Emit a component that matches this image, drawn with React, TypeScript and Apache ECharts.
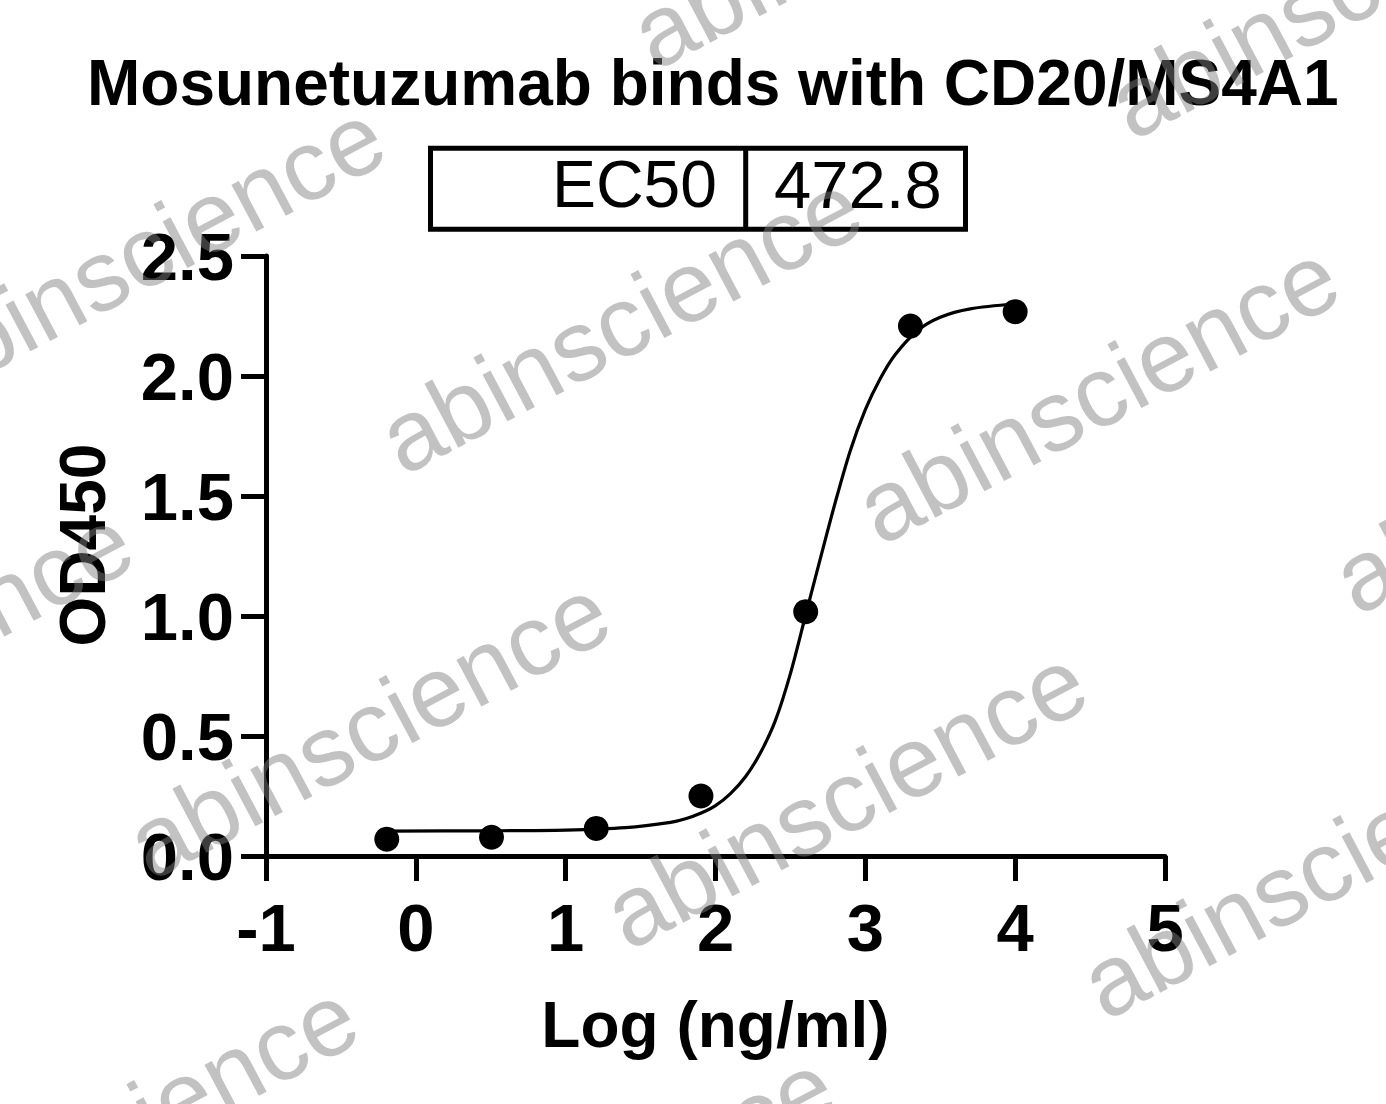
import React, { useEffect, useRef } from "react";
import * as echarts from "echarts";

// ---------- data ----------
const chartTitle = "Mosunetuzumab binds with CD20/MS4A1";
const ec50Label = "EC50";
const ec50Value = "472.8";
const xAxisTitle = "Log (ng/ml)";
const yAxisTitle = "OD450";

// measured points: log10 concentration (ng/ml) vs OD450
const logConc = [-0.194, 0.505, 1.204, 1.903, 2.602, 3.301, 4.0];
const od450 = [0.07, 0.078, 0.115, 0.25, 1.018, 2.208, 2.268];

// fitted curve
const fitX = [-0.194, 0.5, 1.0, 1.4, 1.7, 1.8, 1.9, 2.0, 2.1, 2.2, 2.3, 2.4, 2.5, 2.6, 2.7, 2.8, 2.9, 3.0, 3.1, 3.2, 3.35, 3.5, 3.7, 4.0];
const fitY = [0.104, 0.105, 0.108, 0.118, 0.14, 0.155, 0.178, 0.21, 0.26, 0.33, 0.43, 0.565, 0.76, 1.0, 1.24, 1.475, 1.69, 1.86, 1.99, 2.09, 2.19, 2.245, 2.28, 2.3];

// axes
const xMin = -1, xMax = 5, xStep = 1;
const yMin = 0, yMax = 2.5, yStep = 0.5;

const FONT = "'Liberation Sans', Arial, Helvetica, sans-serif";

function buildWatermarks() {
  const els: any[] = [];
  const ax = 620, ay = 322;
  const ux = 477, uy = 70;
  const vx = 252, vy = -405;
  for (let i = -4; i <= 4; i++) {
    for (let j = -4; j <= 4; j++) {
      const cx = ax + i * ux + j * vx;
      const cy = ay + i * uy + j * vy;
      if (cx < -350 || cx > 1750 || cy < -250 || cy > 1350) continue;
      els.push({
        type: "text",
        x: cx,
        y: cy,
        rotation: (28 * Math.PI) / 180,
        z: 100,
        silent: true,
        style: {
          text: "abinscience",
          fontSize: 100,
          fontFamily: FONT,
          fontWeight: "normal",
          fill: "rgba(128,128,128,0.48)",
          textAlign: "center",
          textVerticalAlign: "middle",
          align: "center",
          verticalAlign: "middle",
        },
      });
    }
  }
  return els;
}

export default function App() {
  const ref = useRef<HTMLDivElement>(null);

  useEffect(() => {
    document.body.style.margin = "0";
    if (!ref.current) return;
    const chart = echarts.init(ref.current, undefined, { renderer: "svg" });

    const points = logConc.map((x, i) => [x, od450[i]]);
    const curve = fitX.map((x, i) => [x, fitY[i]]);

    const option: any = {
      animation: false,
      backgroundColor: "#ffffff",
      title: {
        text: chartTitle,
        left: 87,
        top: 51,
        padding: 0,
        textStyle: {
          fontFamily: FONT,
          fontSize: 64,
          fontWeight: "bold",
          color: "#000",
        },
      },
      grid: {
        left: 266,
        right: 1386 - 1165,
        top: 256,
        bottom: 1104 - 856,
        containLabel: false,
        outerBoundsMode: "none",
      },
      xAxis: {
        type: "value",
        min: xMin,
        max: xMax,
        interval: xStep,
        splitLine: { show: false },
        axisLine: { show: true, onZero: false, lineStyle: { color: "#000", width: 5 } },
        axisTick: { show: true, length: 25, lineStyle: { color: "#000", width: 5 } },
        axisLabel: {
          margin: 38,
          fontFamily: FONT,
          fontSize: 67,
          fontWeight: "bold",
          color: "#000",
          formatter: (v: number) => String(v),
        },
        name: xAxisTitle,
        nameLocation: "middle",
        nameGap: 137,
        nameMoveOverlap: false,
        nameTextStyle: {
          fontFamily: FONT,
          fontSize: 64,
          fontWeight: "bold",
          color: "#000",
        },
      },
      yAxis: {
        type: "value",
        min: yMin,
        max: yMax,
        interval: yStep,
        splitLine: { show: false },
        axisLine: { show: true, onZero: false, lineStyle: { color: "#000", width: 5 } },
        axisTick: { show: true, length: 25, lineStyle: { color: "#000", width: 5 } },
        axisLabel: {
          margin: 32,
          fontFamily: FONT,
          fontSize: 67,
          fontWeight: "bold",
          color: "#000",
          formatter: (v: number) => v.toFixed(1),
        },
        name: yAxisTitle,
        nameLocation: "middle",
        nameRotate: 90,
        nameGap: 151,
        nameMoveOverlap: false,
        nameTextStyle: {
          fontFamily: FONT,
          fontSize: 64,
          fontWeight: "bold",
          color: "#000",
          padding: [0, 0, 0, 22],
        },
      },
      series: [
        {
          type: "line",
          data: curve,
          smooth: 0.3,
          showSymbol: false,
          symbol: "none",
          lineStyle: { color: "#000", width: 3.2 },
          z: 2,
          silent: true,
        },
        {
          type: "scatter",
          data: points,
          symbol: "circle",
          symbolSize: 25,
          itemStyle: { color: "#000", opacity: 1 },
          z: 3,
        },
      ],
      graphic: [
        {
          type: "rect",
          z: 10,
          shape: { x: 430.5, y: 148.2, width: 535, height: 81 },
          style: { fill: "none", stroke: "#000", lineWidth: 5 },
        },
        {
          type: "line",
          z: 10,
          shape: { x1: 745.7, y1: 148.2, x2: 745.7, y2: 229.2 },
          style: { stroke: "#000", lineWidth: 5 },
        },
        {
          type: "text",
          z: 10,
          x: 717,
          y: 184,
          style: {
            text: ec50Label,
            fontFamily: FONT,
            fontSize: 66,
            fill: "#000",
            textAlign: "right",
            textVerticalAlign: "middle",
            align: "right",
            verticalAlign: "middle",
          },
        },
        {
          type: "text",
          z: 10,
          x: 774,
          y: 184,
          style: {
            text: ec50Value,
            fontFamily: FONT,
            fontSize: 67,
            fill: "#000",
            textAlign: "left",
            textVerticalAlign: "middle",
            align: "left",
            verticalAlign: "middle",
          },
        },
        ...buildWatermarks(),
      ],
    };

    chart.setOption(option);
    return () => chart.dispose();
  }, []);

  return <div ref={ref} style={{ width: 1386, height: 1104, overflow: "hidden" }} />;
}
